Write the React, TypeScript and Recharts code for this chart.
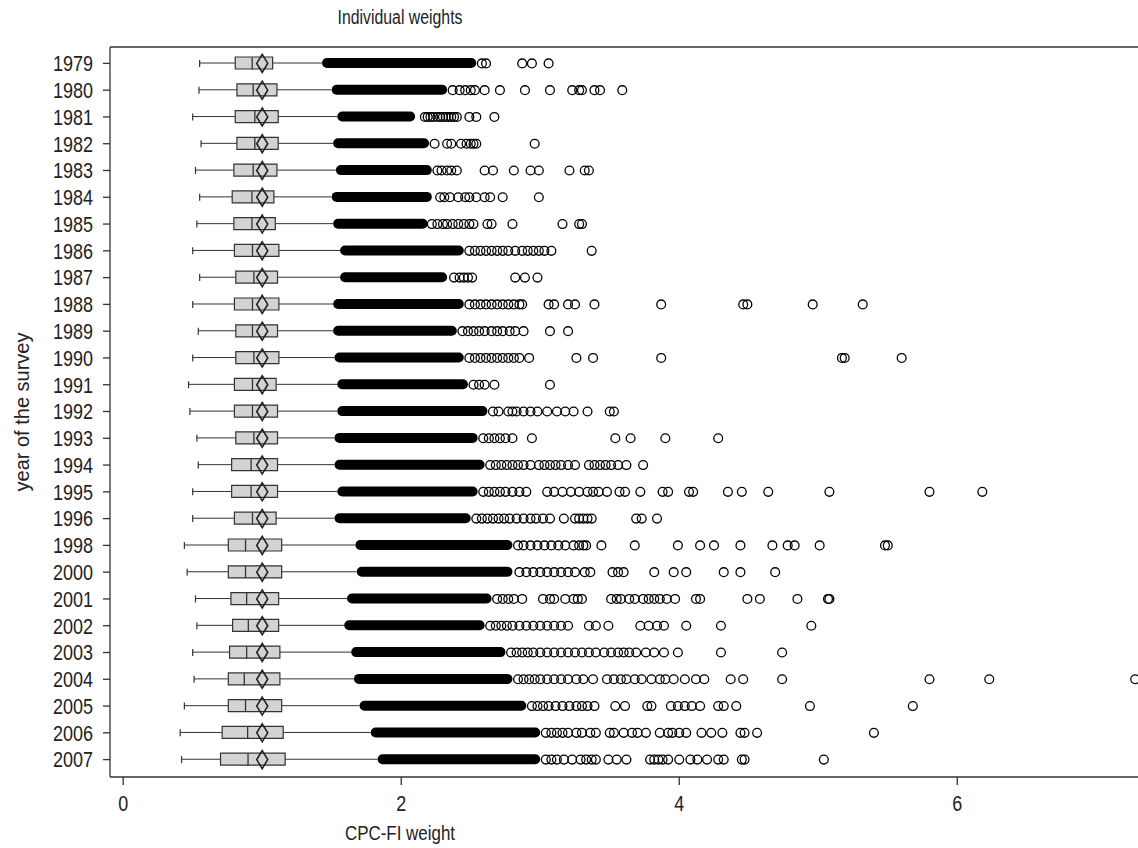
import { ComposedChart, Bar, Scatter, XAxis, YAxis } from "recharts";

const years = [
  "1979", "1980", "1981", "1982", "1983", "1984", "1985", "1986", "1987",
  "1988", "1989", "1990", "1991", "1992", "1993", "1994", "1995", "1996",
  "1998", "2000", "2001", "2002", "2003", "2004", "2005", "2006", "2007",
];

const whiskerLow = [
  0.55, 0.545, 0.5, 0.56, 0.52, 0.55, 0.53, 0.5, 0.55, 0.5, 0.54, 0.5, 0.47, 0.48,
  0.53, 0.54, 0.5, 0.5, 0.44, 0.46, 0.52, 0.53, 0.5, 0.51, 0.44, 0.41, 0.42,
];
const q1 = [
  0.806, 0.818, 0.806, 0.818, 0.796, 0.784, 0.796, 0.8, 0.81, 0.8, 0.81, 0.81, 0.8, 0.8,
  0.81, 0.78, 0.78, 0.8, 0.756, 0.756, 0.775, 0.787, 0.765, 0.756, 0.756, 0.712, 0.7,
];
const median = [
  0.928, 0.935, 0.947, 0.947, 0.935, 0.926, 0.926, 0.93, 0.94, 0.93, 0.93, 0.94, 0.93, 0.93,
  0.94, 0.92, 0.92, 0.93, 0.88, 0.88, 0.888, 0.9, 0.888, 0.871, 0.88, 0.895, 0.898,
];
const q3 = [
  1.075, 1.106, 1.115, 1.115, 1.106, 1.084, 1.094, 1.12, 1.11, 1.12, 1.11, 1.12, 1.1, 1.11,
  1.11, 1.11, 1.11, 1.1, 1.14, 1.14, 1.118, 1.118, 1.127, 1.127, 1.14, 1.151, 1.165,
];
const mean = [
  1.0, 1.0, 1.0, 1.0, 1.0, 1.0, 1.0, 1.0, 1.0, 1.0, 1.0, 1.0, 1.0, 1.0,
  1.0, 1.0, 1.0, 1.0, 1.0, 1.0, 1.0, 1.0, 1.0, 1.0, 1.0, 1.0, 1.0,
];

// dense run of overlapping outliers (drawn as a solid band)
const denseLow = [
  1.43, 1.5, 1.54, 1.51, 1.53, 1.5, 1.51, 1.56, 1.56, 1.51, 1.51, 1.52, 1.54, 1.54,
  1.52, 1.52, 1.54, 1.52, 1.67, 1.68, 1.61, 1.59, 1.64, 1.66, 1.7, 1.78, 1.83,
];
const denseHigh = [
  2.54, 2.33, 2.1, 2.2, 2.22, 2.22, 2.19, 2.45, 2.33, 2.45, 2.4, 2.45, 2.48, 2.62,
  2.55, 2.6, 2.55, 2.5, 2.8, 2.8, 2.65, 2.6, 2.75, 2.8, 2.9, 3.0, 3.0,
];

const outliers = [
  [2.58, 2.61, 2.87, 2.94, 3.06],
  [2.37, 2.42, 2.46, 2.5, 2.53, 2.6, 2.71, 2.89, 3.07, 3.23, 3.28, 3.3, 3.39, 3.43, 3.59],
  [2.17, 2.19, 2.21, 2.23, 2.26, 2.28, 2.3, 2.32, 2.34, 2.36, 2.38, 2.4, 2.49, 2.54, 2.67],
  [2.24, 2.33, 2.36, 2.43, 2.47, 2.5, 2.52, 2.54, 2.96],
  [2.26, 2.29, 2.33, 2.36, 2.4, 2.6, 2.66, 2.81, 2.93, 2.99, 3.21, 3.32, 3.35],
  [2.28, 2.31, 2.35, 2.41, 2.46, 2.49, 2.54, 2.6, 2.64, 2.73, 2.99],
  [2.22, 2.26, 2.3, 2.33, 2.37, 2.41, 2.45, 2.49, 2.52, 2.62, 2.65, 2.8, 3.16, 3.28, 3.3],
  [2.49, 2.53, 2.57, 2.61, 2.65, 2.69, 2.73, 2.77, 2.82, 2.87, 2.91, 2.95, 2.99, 3.03, 3.08, 3.37],
  [2.38, 2.42, 2.45, 2.48, 2.51, 2.82, 2.89, 2.98],
  [2.49, 2.53, 2.57, 2.61, 2.65, 2.69, 2.73, 2.77, 2.81, 2.85, 2.87, 3.06, 3.1, 3.2, 3.25, 3.39, 3.87, 4.46, 4.49, 4.96, 5.32],
  [2.44, 2.48, 2.52, 2.56, 2.6, 2.65, 2.69, 2.73, 2.78, 2.82, 2.88, 3.07, 3.2],
  [2.49, 2.53, 2.57, 2.61, 2.65, 2.69, 2.73, 2.77, 2.81, 2.85, 2.92, 3.26, 3.38, 3.87, 5.17, 5.19, 5.6],
  [2.52, 2.56, 2.6, 2.67, 3.07],
  [2.66, 2.7, 2.77, 2.8, 2.83, 2.88, 2.93, 2.98, 3.05, 3.12, 3.18, 3.24, 3.34, 3.5, 3.53],
  [2.59, 2.63, 2.67, 2.71, 2.75, 2.8, 2.94, 3.54, 3.65, 3.9, 4.28],
  [2.64, 2.68, 2.72, 2.76, 2.8, 2.84, 2.88, 2.93, 2.99, 3.03, 3.07, 3.11, 3.15, 3.2, 3.25, 3.35, 3.39, 3.43, 3.47, 3.51, 3.56, 3.62, 3.74],
  [2.59, 2.63, 2.67, 2.71, 2.75, 2.8, 2.85, 2.9, 3.05, 3.1, 3.16, 3.22, 3.28, 3.34, 3.38, 3.42, 3.48, 3.57, 3.61, 3.72, 3.88, 3.92, 4.07, 4.1, 4.35, 4.45, 4.64, 5.08, 5.8, 6.18],
  [2.54, 2.58, 2.62, 2.66, 2.7, 2.74, 2.78, 2.83, 2.88, 2.93, 2.97, 3.02, 3.07, 3.17, 3.25, 3.28, 3.31, 3.34, 3.37, 3.69, 3.73, 3.84],
  [2.84, 2.88, 2.93, 2.98, 3.03, 3.08, 3.13, 3.18, 3.24, 3.28, 3.31, 3.33, 3.44, 3.68, 3.99, 4.15, 4.25, 4.44, 4.67, 4.78, 4.83, 5.01, 5.48, 5.5],
  [2.85, 2.9, 2.95, 3.0, 3.05, 3.1, 3.15, 3.2, 3.25, 3.32, 3.36, 3.52, 3.56, 3.6, 3.82, 3.96, 4.05, 4.32, 4.44, 4.69],
  [2.69, 2.73, 2.77, 2.81, 2.87, 3.02, 3.07, 3.1, 3.18, 3.24, 3.27, 3.3, 3.51, 3.55, 3.58, 3.64, 3.68, 3.74, 3.78, 3.82, 3.86, 3.91, 3.97, 4.12, 4.15, 4.49, 4.58, 4.85, 5.07, 5.08],
  [2.64, 2.68, 2.72, 2.76, 2.8, 2.85, 2.9, 2.95, 3.0, 3.05, 3.1, 3.15, 3.2, 3.35, 3.4, 3.49, 3.72, 3.78, 3.84, 3.89, 4.05, 4.3, 4.95],
  [2.79, 2.83, 2.87, 2.91, 2.95, 3.0, 3.05, 3.1, 3.15, 3.2, 3.25, 3.3, 3.35, 3.4, 3.46, 3.51, 3.56, 3.6, 3.64, 3.69, 3.76, 3.82, 3.89, 3.99, 4.3, 4.74],
  [2.84, 2.88, 2.92, 2.96, 3.0, 3.05, 3.1, 3.15, 3.2, 3.26, 3.31, 3.38, 3.48, 3.53, 3.58, 3.62, 3.68, 3.73, 3.8, 3.86, 3.9, 3.96, 4.04, 4.12, 4.18, 4.37, 4.46, 4.74, 5.8, 6.23, 7.28],
  [2.94, 2.98, 3.02, 3.06, 3.11, 3.16, 3.21, 3.26, 3.3, 3.34, 3.39, 3.54, 3.61, 3.77, 3.8, 3.94, 3.99, 4.04, 4.09, 4.15, 4.28, 4.32, 4.41, 4.94, 5.68],
  [3.04, 3.08, 3.12, 3.16, 3.2, 3.26, 3.3, 3.36, 3.4, 3.5, 3.53, 3.6, 3.66, 3.7, 3.76, 3.86, 3.92, 3.95, 4.0, 4.05, 4.16, 4.23, 4.31, 4.44, 4.47, 4.56, 5.4],
  [3.04, 3.08, 3.12, 3.17, 3.23, 3.29, 3.33, 3.37, 3.4, 3.49, 3.55, 3.62, 3.79, 3.82, 3.85, 3.88, 3.92, 4.0, 4.08, 4.13, 4.2, 4.28, 4.32, 4.45, 4.47, 5.04],
];

const xTicks = [0, 2, 4, 6];

const rows = years.map((year, i) => ({
  year,
  whisker: [whiskerLow[i], denseLow[i]],
  box: [q1[i], q3[i]],
  dense: [denseLow[i], denseHigh[i]],
}));

const capPoints = years.map((year, i) => ({ year, v: whiskerLow[i] }));
const medianPoints = years.map((year, i) => ({ year, v: median[i] }));
const meanPoints = years.map((year, i) => ({ year, v: mean[i] }));
const outlierPoints = years.flatMap((year, i) => outliers[i].map((v) => ({ year, v })));

const INK = "#333";
const FONT = "'Liberation Sans', Arial, sans-serif";
const yPad = { top: 3, bottom: 4 };

// the original's lettering is tall and narrow, so squeeze it a little
const YTick = (p: any) => (
  <text
    x={p.x}
    y={p.y}
    dy="0.355em"
    textAnchor="end"
    fontSize={22}
    fill="#222"
    fontFamily={FONT}
    textLength={40}
    lengthAdjust="spacingAndGlyphs"
  >
    {p.payload.value}
  </text>
);

const XTick = (p: any) => (
  <text
    x={p.x}
    y={p.y}
    dy="0.71em"
    textAnchor="middle"
    fontSize={22}
    fill="#222"
    fontFamily={FONT}
    textLength={10}
    lengthAdjust="spacingAndGlyphs"
  >
    {p.payload.value}
  </text>
);

const WhiskerShape = (p: any) => {
  const y = p.y + p.height / 2;
  return <line x1={p.x} x2={p.x + p.width} y1={y} y2={y} stroke={INK} strokeWidth={1} />;
};

const CapShape = (p: any) => (
  <line x1={p.cx} x2={p.cx} y1={p.cy - 3.5} y2={p.cy + 3.5} stroke={INK} strokeWidth={1.2} />
);

const MedianShape = (p: any) => (
  <line x1={p.cx} x2={p.cx} y1={p.cy - 6} y2={p.cy + 6} stroke={INK} strokeWidth={1.3} />
);

const DiamondShape = (p: any) => (
  <polygon
    points={`${p.cx},${p.cy - 9} ${p.cx + 5.5},${p.cy} ${p.cx},${p.cy + 9} ${p.cx - 5.5},${p.cy}`}
    fill="none"
    stroke="#222"
    strokeWidth={1.6}
  />
);

const CircleShape = (p: any) => (
  <circle cx={p.cx} cy={p.cy} r={4.4} fill="none" stroke="#000" strokeWidth={1.3} />
);

export default function App() {
  return (
    <div style={{ position: "absolute", left: 0, top: 0, width: 1138, height: 848, background: "#fff" }}>
      <ComposedChart
        width={1138}
        height={848}
        data={rows}
        layout="vertical"
        margin={{ top: 46, right: 0, bottom: 0, left: 0 }}
      >
        <XAxis
          type="number"
          domain={[-0.095, 7.3]}
          allowDataOverflow
          ticks={xTicks}
          height={71}
          tickSize={8}
          tickMargin={10}
          axisLine={{ stroke: INK, strokeWidth: 1.3 }}
          tickLine={{ stroke: INK, strokeWidth: 1.3 }}
          tick={XTick}
        />
        <XAxis
          xAxisId="top"
          orientation="top"
          type="number"
          domain={[0, 1]}
          height={1}
          tick={false}
          tickLine={false}
          axisLine={{ stroke: INK, strokeWidth: 1.3 }}
        />
        <YAxis
          yAxisId="main"
          type="category"
          dataKey="year"
          width={110}
          padding={yPad}
          tickSize={7}
          tickMargin={10}
          interval={0}
          axisLine={{ stroke: INK, strokeWidth: 1.3 }}
          tickLine={{ stroke: INK, strokeWidth: 1.3 }}
          tick={YTick}
        />
        <YAxis yAxisId="whisk" type="category" dataKey="year" hide width={0} padding={yPad} />
        <YAxis yAxisId="box" type="category" dataKey="year" hide width={0} padding={yPad} />
        <YAxis yAxisId="band" type="category" dataKey="year" hide width={0} padding={yPad} />
        <YAxis
          yAxisId="pts"
          type="category"
          dataKey="year"
          hide
          width={0}
          padding={yPad}
          allowDuplicatedCategory={false}
        />

        <Bar yAxisId="whisk" dataKey="whisker" barSize={2} shape={WhiskerShape} isAnimationActive={false} />
        <Bar
          yAxisId="band"
          dataKey="dense"
          barSize={10}
          radius={5}
          fill="#000"
          isAnimationActive={false}
        />
        <Bar
          yAxisId="box"
          dataKey="box"
          barSize={12}
          fill="#d3d3d3"
          stroke={INK}
          strokeWidth={1.2}
          isAnimationActive={false}
        />
        <Scatter yAxisId="pts" data={capPoints} dataKey="v" shape={CapShape} isAnimationActive={false} />
        <Scatter yAxisId="pts" data={medianPoints} dataKey="v" shape={MedianShape} isAnimationActive={false} />
        <Scatter yAxisId="pts" data={meanPoints} dataKey="v" shape={DiamondShape} isAnimationActive={false} />
        <Scatter yAxisId="pts" data={outlierPoints} dataKey="v" shape={CircleShape} isAnimationActive={false} />
      </ComposedChart>

      <svg
        width={1138}
        height={848}
        style={{ position: "absolute", left: 0, top: 0, pointerEvents: "none" }}
      >
        <text
          x={400}
          y={24}
          textAnchor="middle"
          fontSize={20}
          fill="#222"
          fontFamily={FONT}
          textLength={125}
          lengthAdjust="spacingAndGlyphs"
        >
          Individual weights
        </text>
        <text
          x={400}
          y={840}
          textAnchor="middle"
          fontSize={20}
          fill="#222"
          fontFamily={FONT}
          textLength={110}
          lengthAdjust="spacingAndGlyphs"
        >
          CPC-FI weight
        </text>
        <text
          x={29}
          y={412}
          textAnchor="middle"
          fontSize={20}
          fill="#222"
          fontFamily={FONT}
          transform="rotate(-90 29 412)"
        >
          year of the survey
        </text>
      </svg>
    </div>
  );
}
